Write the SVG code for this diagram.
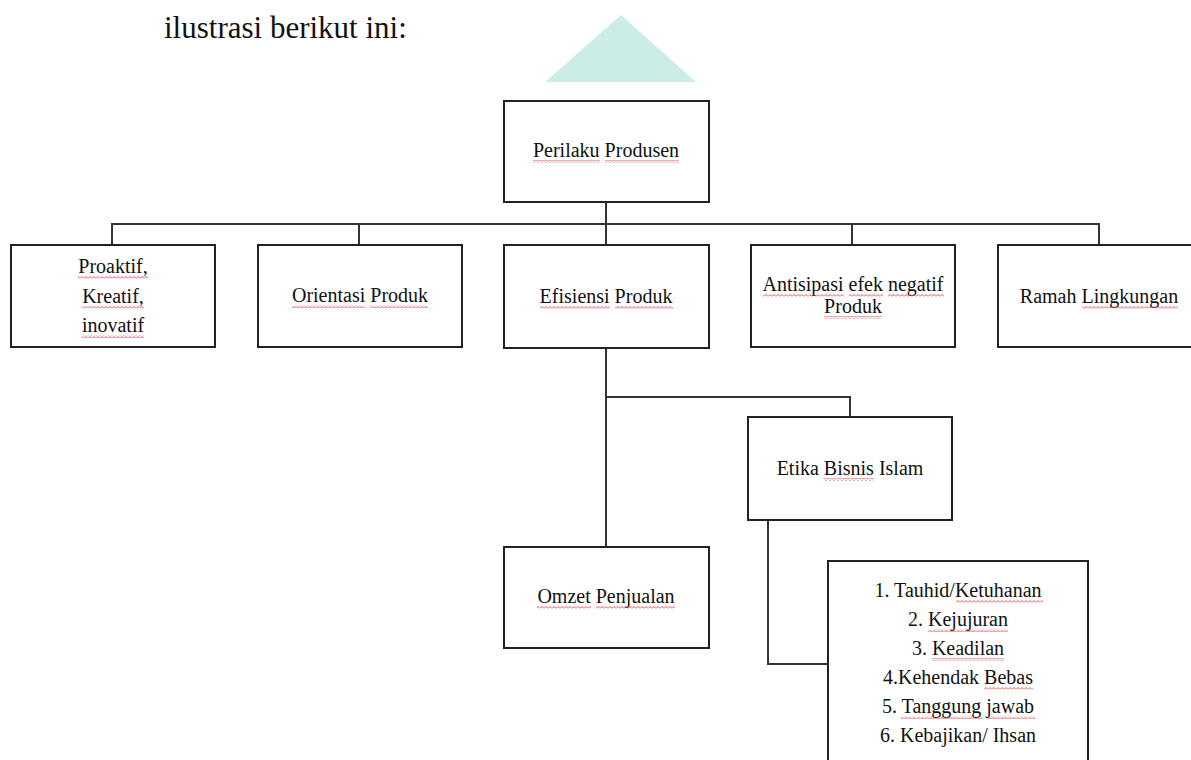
<svg xmlns="http://www.w3.org/2000/svg" width="1191" height="760" viewBox="0 0 1191 760">
<defs>
<pattern id="sq" x="0" y="0" width="4" height="3" patternUnits="userSpaceOnUse">
<path d="M0,2.5 L2,0.5 L4,2.5" fill="none" stroke="#e23b3b" stroke-width="0.9"/>
</pattern>
</defs>
<style>
.box{fill:#fff;stroke:#222;stroke-width:2}
.t{font-family:"Liberation Serif","Times New Roman",serif;font-size:20px;fill:#111;text-anchor:middle}
.title{font-family:"Liberation Serif","Times New Roman",serif;font-size:31px;fill:#111}
.c{fill:none;stroke:#333;stroke-width:2}
.sq{fill:url(#sq)}
</style>
<rect width="1191" height="760" fill="#fff"/>
<text class="title" x="164" y="38">ilustrasi berikut ini:</text>
<polygon points="621,15 545,82 696,82" fill="#cbece7"/>

<g id="connectors">
<path class="c" d="M606,202 V244 M112,224 H1099 M112,223 V244 M359,223 V244 M852,223 V244 M1099,223 V244"/>
<path class="c" d="M606,348 V547 M606,397 H850 V417"/>
<path class="c" d="M768,520 V664 H828"/>
</g>

<g id="node-perilaku">
<rect class="box" x="504" y="101" width="205" height="101"/>
<text class="t" x="606" y="157">Perilaku Produsen</text>
<rect class="sq" x="533" y="160" width="67" height="3"/>
<rect class="sq" x="605" y="160" width="74" height="3"/>
</g>

<g id="node-proaktif">
<rect class="box" x="11" y="245" width="204" height="102"/>
<text class="t" x="113" y="273">Proaktif,</text>
<text class="t" x="113" y="302.5">Kreatif,</text>
<text class="t" x="113" y="332">inovatif</text>
<rect class="sq" x="78" y="276" width="70" height="3"/>
<rect class="sq" x="82" y="305.5" width="62" height="3"/>
<rect class="sq" x="82" y="335" width="62" height="3"/>
</g>

<g id="node-orientasi">
<rect class="box" x="258" y="245" width="204" height="102"/>
<text class="t" x="360" y="302">Orientasi Produk</text>
<rect class="sq" x="292" y="305" width="73" height="3"/>
<rect class="sq" x="370" y="305" width="58" height="3"/>
</g>

<g id="node-efisiensi">
<rect class="box" x="504" y="245" width="205" height="103"/>
<text class="t" x="606" y="303">Efisiensi Produk</text>
<rect class="sq" x="540" y="306" width="70" height="3"/>
<rect class="sq" x="615" y="306" width="58" height="3"/>
</g>

<g id="node-antisipasi">
<rect class="box" x="751" y="245" width="204" height="102"/>
<text class="t" x="853" y="291">Antisipasi efek negatif</text>
<text class="t" x="853" y="313">Produk</text>
<rect class="sq" x="763" y="294" width="81" height="3"/>
<rect class="sq" x="849" y="294" width="34" height="3"/>
<rect class="sq" x="888" y="294" width="56" height="3"/>
<rect class="sq" x="824" y="316" width="58" height="3"/>
</g>

<g id="node-ramah">
<rect class="box" x="998" y="245" width="203" height="102"/>
<text class="t" x="1099" y="303">Ramah Lingkungan</text>
<rect class="sq" x="1082" y="306" width="96" height="3"/>
</g>

<g id="node-etika">
<rect class="box" x="748" y="417" width="204" height="103"/>
<text class="t" x="850" y="475">Etika Bisnis Islam</text>
<rect class="sq" x="824" y="478" width="50" height="3"/>
</g>

<g id="node-omzet">
<rect class="box" x="504" y="547" width="205" height="101"/>
<text class="t" x="606" y="603">Omzet Penjualan</text>
<rect class="sq" x="537" y="606" width="54" height="3"/>
<rect class="sq" x="596" y="606" width="79" height="3"/>
</g>

<g id="node-nilai">
<rect class="box" x="828" y="561" width="260" height="220"/>
<text class="t" x="958" y="597">1. Tauhid/Ketuhanan</text>
<text class="t" x="958" y="626">2. Kejujuran</text>
<text class="t" x="958" y="655">3. Keadilan</text>
<text class="t" x="958" y="684">4.Kehendak Bebas</text>
<text class="t" x="958" y="713">5. Tanggung jawab</text>
<text class="t" x="958" y="742">6. Kebajikan/ Ihsan</text>
<rect class="sq" x="956" y="600" width="87" height="3"/>
<rect class="sq" x="928" y="629" width="80" height="3"/>
<rect class="sq" x="932" y="658" width="72" height="3"/>
<rect class="sq" x="984" y="687" width="49" height="3"/>
<rect class="sq" x="901" y="716" width="81" height="3"/>
<rect class="sq" x="987" y="716" width="48" height="3"/>
</g>
</svg>
